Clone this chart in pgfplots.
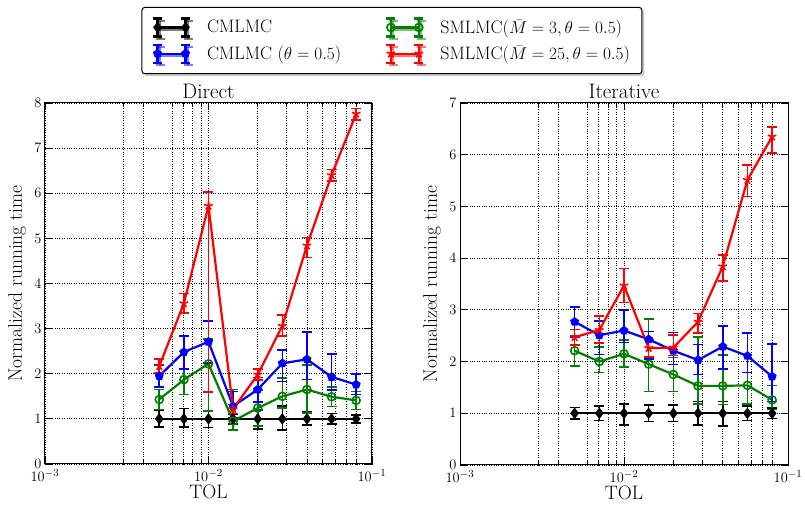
\documentclass[border=0pt]{standalone}
\usepackage{pgfplots}
\pgfplotsset{compat=1.18}
\usepackage{pgfplotstable}
\usetikzlibrary{shadows}

% columns: x y ep em
\pgfplotstableread{
x y ep em
0.005 1 0.19 0.18
0.00707 1 0.23 0.18
0.01 1 0.16 0.19
0.01414 1 0.10 0.12
0.02 1 0.20 0.22
0.02828 1 0.28 0.25
0.04 1 0.16 0.14
0.05657 1 0.12 0.12
0.08 1 0.09 0.09
}\dBlack
\pgfplotstableread{
x y ep em
0.005 1.95 0.25 0.25
0.00707 2.48 0.35 0.38
0.01 2.71 0.46 0.47
0.01414 1.28 0.33 0.25
0.02 1.65 0.27 0.27
0.02828 2.23 0.30 0.40
0.04 2.32 0.60 0.45
0.05657 1.93 0.51 0.29
0.08 1.76 0.24 0.22
}\dBlue
\pgfplotstableread{
x y ep em
0.005 1.43 0.22 0.22
0.00707 1.87 0.62 0.33
0.01 2.22 0.55 1.05
0.01414 0.95 0.70 0.19
0.02 1.24 0.40 0.40
0.02828 1.50 0.41 0.26
0.04 1.65 0.55 0.52
0.05657 1.49 0.22 0.22
0.08 1.41 0.20 0.20
}\dGreen
\pgfplotstableread{
x y ep em
0.005 2.17 0.16 0.15
0.00707 3.56 0.22 0.21
0.01 5.72 0.31 4.13
0.01414 1.22 0.10 0.10
0.02 1.98 0.12 0.12
0.02828 3.06 0.24 0.22
0.04 4.84 0.18 0.26
0.05657 6.40 0.13 0.13
0.08 7.76 0.12 0.14
}\dRed

\pgfplotstableread{
x y ep em
0.005 1 0.11 0.11
0.00707 1 0.14 0.14
0.01 1 0.18 0.23
0.01414 1 0.16 0.16
0.02 1 0.16 0.16
0.02828 1 0.23 0.23
0.04 1 0.23 0.25
0.05657 1 0.14 0.14
0.08 1 0.10 0.10
}\iBlack
\pgfplotstableread{
x y ep em
0.005 2.77 0.29 0.30
0.00707 2.51 0.28 0.37
0.01 2.60 0.40 0.23
0.01414 2.43 0.15 0.38
0.02 2.21 0.35 0.27
0.02828 2.03 0.30 0.28
0.04 2.29 0.40 0.43
0.05657 2.11 0.44 0.32
0.08 1.71 0.63 0.48
}\iBlue
\pgfplotstableread{
x y ep em
0.005 2.21 0.28 0.30
0.00707 2.00 0.28 0.21
0.01 2.15 0.27 0.26
0.01414 1.95 0.87 0.53
0.02 1.75 0.33 0.33
0.02828 1.53 0.95 0.35
0.04 1.53 0.60 0.36
0.05657 1.54 0.60 0.36
0.08 1.26 0.28 0.19
}\iGreen
\pgfplotstableread{
x y ep em
0.005 2.47 0.15 0.15
0.00707 2.61 0.27 0.25
0.01 3.47 0.33 0.33
0.01414 2.26 0.17 0.17
0.02 2.27 0.24 0.15
0.02828 2.77 0.16 0.22
0.04 3.84 0.22 0.28
0.05657 5.51 0.29 0.32
0.08 6.35 0.19 0.32
}\iRed

\definecolor{mplgreen}{rgb}{0,0.5,0}

\pgfplotsset{
  myleg/.style={
    legend image code/.code={
      \draw[##1,mark=none] (0pt,-9pt) -- (0pt,9pt) (28pt,-9pt) -- (28pt,9pt);
      \draw[##1,mark=none] (-4.5pt,-9pt) -- (4.5pt,-9pt) (-4.5pt,9pt) -- (4.5pt,9pt)
                           (23.5pt,-9pt) -- (32.5pt,-9pt) (23.5pt,9pt) -- (32.5pt,9pt);
      \draw[##1] plot coordinates {(0pt,0pt) (28pt,0pt)};
    },
  },
}

\begin{document}
\begin{tikzpicture}[x=1pt,y=1pt]
\path[use as bounding box] (0,0) rectangle (805,505);

\begin{axis}[
  scale only axis,
  xmode=log, xmin=1e-3, xmax=1e-1, ymin=0,
  xtick={1e-3,1e-2,1e-1},
  minor xtick={3e-3,4e-3,6e-3,7e-3,8e-3,9e-3,2e-2,3e-2,4e-2,5e-2,6e-2,7e-2,8e-2},
  grid=both,
  major grid style={black, dotted, line width=0.8pt},
  minor grid style={black, dotted, line width=0.8pt},
  tick align=inside, major tick length=7pt, minor tick length=4pt,
  axis line style={line width=1pt},
  tick style={black, line width=0.8pt},
  tick label style={font=\fontsize{15}{17}\selectfont},
  xticklabel style={yshift=-2pt},
  label style={font=\fontsize{19.5}{23}\selectfont},
  title style={font=\fontsize{21}{25}\selectfont, yshift=-5pt},
  xlabel={TOL}, ylabel={Normalized running time},
  xlabel style={at={(axis description cs:0.5,-0.078)},anchor=center},
  ylabel style={at={(axis description cs:-0.085,0.5)},anchor=center},
  at={(45pt,41pt)}, anchor=south west,
  width=327pt, height=361pt,
  ymax=8, ytick={0,1,...,8},
  title={Direct},
  legend columns=2,
  legend cell align=left,
  legend style={at={(axis description cs:1.061,1.173)}, anchor=center,
    draw=black, line width=1pt, rounded corners=3pt, fill=white,
    drop shadow={shadow xshift=2.5pt, shadow yshift=-2.5pt, fill=black!40},
    font=\fontsize{18}{22}\selectfont,
    nodes={inner sep=2pt},
    inner xsep=10pt, inner ysep=10pt, row sep=6pt,
    /tikz/every even column/.append style={column sep=42pt},
    /tikz/every odd column/.append style={column sep=14pt}},
]
\addplot[myleg, black, line width=2.2pt, mark=diamond*, mark size=4pt, mark options={solid},
  error bars/y dir=both, error bars/y explicit,
  error bars/error bar style={line width=1.6pt},
  error bars/error mark options={line width=1.6pt, mark size=5pt, rotate=90}]
  table[x=x, y=y, y error plus=ep, y error minus=em] {\dBlack};
\addlegendentry{CMLMC}
\addplot[myleg, mplgreen, line width=2.2pt, mark=o, mark size=4pt, mark options={solid, line width=1.6pt, fill=mplgreen!35!white},
  error bars/y dir=both, error bars/y explicit,
  error bars/error bar style={line width=1.6pt},
  error bars/error mark options={line width=1.6pt, mark size=5pt, rotate=90}]
  table[x=x, y=y, y error plus=ep, y error minus=em] {\dGreen};
\addlegendentry{SMLMC($\bar{M}=3,\theta=0.5$)}
\addplot[myleg, blue, line width=2.2pt, mark=pentagon*, mark size=3.4pt, mark options={solid},
  error bars/y dir=both, error bars/y explicit,
  error bars/error bar style={line width=1.6pt},
  error bars/error mark options={line width=1.6pt, mark size=5pt, rotate=90}]
  table[x=x, y=y, y error plus=ep, y error minus=em] {\dBlue};
\addlegendentry{CMLMC ($\theta=0.5$)}
\addplot[myleg, red, line width=2.2pt, mark=star, mark size=4.5pt, mark options={solid, line width=1.6pt},
  error bars/y dir=both, error bars/y explicit,
  error bars/error bar style={line width=1.6pt},
  error bars/error mark options={line width=1.6pt, mark size=5pt, rotate=90}]
  table[x=x, y=y, y error plus=ep, y error minus=em] {\dRed};
\addlegendentry{SMLMC($\bar{M}=25,\theta=0.5$)}
\end{axis}

\begin{axis}[
  scale only axis,
  xmode=log, xmin=1e-3, xmax=1e-1, ymin=0,
  xtick={1e-3,1e-2,1e-1},
  minor xtick={3e-3,4e-3,6e-3,7e-3,8e-3,9e-3,2e-2,3e-2,4e-2,5e-2,6e-2,7e-2,8e-2},
  grid=both,
  major grid style={black, dotted, line width=0.8pt},
  minor grid style={black, dotted, line width=0.8pt},
  tick align=inside, major tick length=7pt, minor tick length=4pt,
  axis line style={line width=1pt},
  tick style={black, line width=0.8pt},
  tick label style={font=\fontsize{15}{17}\selectfont},
  xticklabel style={yshift=-2pt},
  label style={font=\fontsize{19.5}{23}\selectfont},
  title style={font=\fontsize{21}{25}\selectfont, yshift=-5pt},
  xlabel={TOL}, ylabel={Normalized running time},
  xlabel style={at={(axis description cs:0.5,-0.078)},anchor=center},
  ylabel style={at={(axis description cs:-0.085,0.5)},anchor=center},
  at={(460pt,40pt)}, anchor=south west,
  width=328pt, height=362pt,
  ymax=7, ytick={0,1,...,7},
  title={Iterative},
]
\addplot[black, line width=2.2pt, mark=diamond*, mark size=4pt, mark options={solid},
  error bars/y dir=both, error bars/y explicit,
  error bars/error bar style={line width=1.6pt},
  error bars/error mark options={line width=1.6pt, mark size=5pt, rotate=90}]
  table[x=x, y=y, y error plus=ep, y error minus=em] {\iBlack};
\addplot[mplgreen, line width=2.2pt, mark=o, mark size=4pt, mark options={solid, line width=1.6pt, fill=mplgreen!35!white},
  error bars/y dir=both, error bars/y explicit,
  error bars/error bar style={line width=1.6pt},
  error bars/error mark options={line width=1.6pt, mark size=5pt, rotate=90}]
  table[x=x, y=y, y error plus=ep, y error minus=em] {\iGreen};
\addplot[blue, line width=2.2pt, mark=pentagon*, mark size=3.4pt, mark options={solid},
  error bars/y dir=both, error bars/y explicit,
  error bars/error bar style={line width=1.6pt},
  error bars/error mark options={line width=1.6pt, mark size=5pt, rotate=90}]
  table[x=x, y=y, y error plus=ep, y error minus=em] {\iBlue};
\addplot[red, line width=2.2pt, mark=star, mark size=4.5pt, mark options={solid, line width=1.6pt},
  error bars/y dir=both, error bars/y explicit,
  error bars/error bar style={line width=1.6pt},
  error bars/error mark options={line width=1.6pt, mark size=5pt, rotate=90}]
  table[x=x, y=y, y error plus=ep, y error minus=em] {\iRed};
\end{axis}
\end{tikzpicture}
\end{document}
